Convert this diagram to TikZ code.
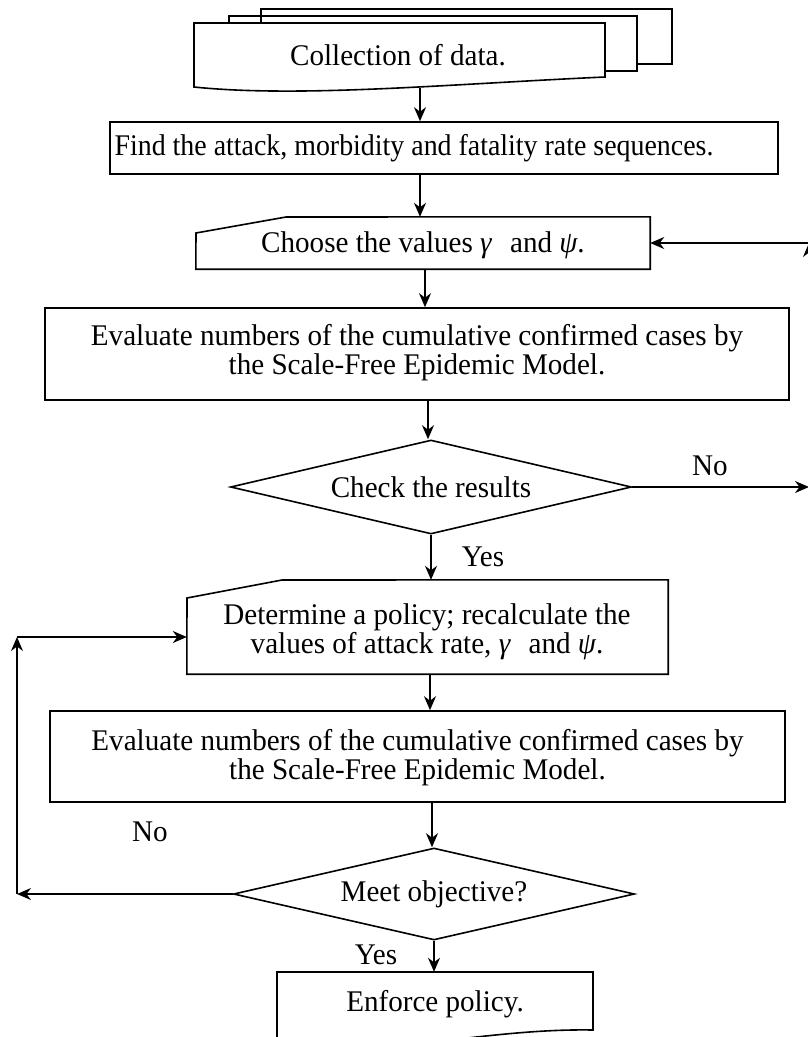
\documentclass[tikz,border=0pt]{standalone}
\usepackage{fontspec}
\setmainfont{Liberation Serif}[FakeStretch=0.97]
\newfontfamily\narrowfont{Liberation Serif}[FakeStretch=0.93]
\usetikzlibrary{arrows.meta,shapes.geometric}
\begin{document}
\begin{tikzpicture}[x=1pt,y=-1pt,
  every node/.style={font=\fontsize{30}{29}\selectfont, inner sep=0pt},
  ln/.style={line width=1.6pt, line join=miter},
  arr/.style={line width=1.6pt, -{Stealth[length=14pt,width=12pt,inset=4.5pt]}},
  plainbox/.style={draw, line width=1.6pt},
  decision/.style={draw, line width=1.6pt, shape=diamond, aspect=4.3}
]
\useasboundingbox (0,0) rectangle (808,1037);

% document stack
\draw[ln] (261,23) -- (261,9) -- (672,9) -- (672,64) -- (637,64);
\draw[ln] (229,23) -- (229,16) -- (637,16) -- (637,71) -- (605,71);
\draw[ln] (194,87) -- (194,23) -- (605,23) -- (605,77)
   .. controls (450,84) and (300,98) .. (194,87) -- cycle;
\node (doc) at (398,55) {Collection of data.};
\coordinate (docb) at (420,88);

% find
\node[plainbox, minimum width=668pt, minimum height=52pt] (find) at (444,148) {};
\node[font=\narrowfont\fontsize{30}{29}\selectfont] (findt) at (414,148) {Find the attack, morbidity and fatality rate sequences.};

% choose
\node[minimum width=454pt, minimum height=52pt] (choose) at (423,243) {};
\node (chooset) at (423,245) {Choose the values \textit{γ}\hspace{0.35em} and \textit{ψ}.};
\draw[ln] (choose.south west) -- (196,233) -- (286,217) -- (choose.north east) -- (choose.south east) -- cycle;

% evaluate 1
\node[plainbox, minimum width=744pt, minimum height=92pt] (ev1) at (417,354) {};
\node[align=center] (ev1t) at (417,353)
  {Evaluate numbers of the cumulative confirmed cases by\\the Scale-Free Epidemic Model.};

% check
\node[decision, minimum width=401pt, minimum height=94pt] (check) at (431,487) {Check the results};

% determine
\node[minimum width=481pt, minimum height=94pt] (policy) at (427.5,627) {};
\node[align=center] (policyt) at (427,632)
  {Determine a policy; recalculate the\\values of attack rate, \textit{γ}\hspace{0.35em} and \textit{ψ}.};
\draw[ln] (policy.south west) -- (187,598) -- (282,580) -- (policy.north east) -- (policy.south east) -- cycle;

% evaluate 2
\node[plainbox, minimum width=735pt, minimum height=91pt] (ev2) at (417.5,756.5) {};
\node[align=center] (ev2t) at (417.5,758)
  {Evaluate numbers of the cumulative confirmed cases by\\the Scale-Free Epidemic Model.};

% meet
\node[decision, minimum width=401pt, minimum height=92pt] (meet) at (434,894) {Meet objective?};

% enforce
\node[minimum width=316pt, minimum height=66pt] (enf) at (435,1005) {};
\node (enft) at (435,1004) {Enforce policy.};
\draw[ln] (593,1030) .. controls (480,1028) and (380,1060) .. (277,1042)
   -- (277,972) -- (593,972) -- cycle;

% labels
\node (no1) at (710,466) {No};
\node (yes1) at (483,557) {Yes};
\node (no2) at (150,832) {No};
\node (yes2) at (376,955) {Yes};

% loop coordinates
\coordinate (rx) at (809,243);
\coordinate (lx) at (17,637);
\coordinate (pb) at (430,674);

% main flow
\draw[arr] (docb) -- (docb |- find.north);
\draw[arr] (find.south -| docb) -- (docb |- choose.north);
\draw[arr] ([xshift=2pt]choose.south) -- ([xshift=2pt]choose.south |- ev1.north);
\draw[arr] ([xshift=-3pt]ev1.south -| check.north) -- ([xshift=-3pt]check.north);
\draw[arr] (check.south) -- (check.south |- policy.north);
\draw[arr] (pb) -- (pb |- ev2.north);
\draw[arr] ([xshift=-2pt]ev2.south -| meet.north) -- ([xshift=-2pt]meet.north);
\draw[arr] (meet.south) -- (meet.south |- enf.north);

% right loop
\draw[arr] (check.east) -- (check.east -| rx);
\draw[arr] (check.east -| rx) -- (rx);
\draw[arr] (rx) -- (choose.east);

% left loop
\draw[arr] (meet.west) -- (meet.west -| lx);
\draw[arr] (meet.west -| lx) -- (lx);
\draw[arr] (lx) -- (lx -| policy.west);
\end{tikzpicture}
\end{document}
